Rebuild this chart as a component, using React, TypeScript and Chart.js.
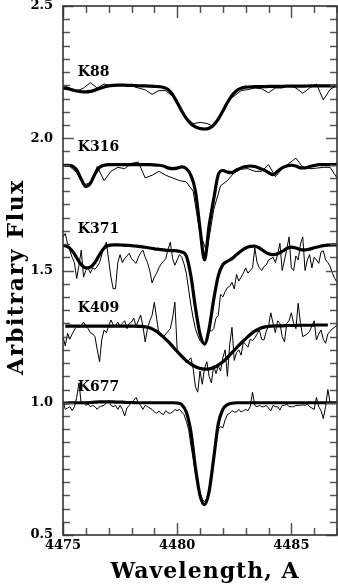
import React, { useEffect, useRef } from "react";
import { Chart, registerables } from "chart.js";

Chart.register(...registerables);

// ---- axis ranges & ticks ----
const WAVE_MIN = 4475;
const WAVE_MAX = 4487;
const FLUX_MIN = 0.5;
const FLUX_MAX = 2.5;
const xMajorTicks = [4475, 4480, 4485];
const yMajorTicks = [0.5, 1.0, 1.5, 2.0, 2.5];
const xMinorStep = 1;
const yMinorStep = 0.05;
const xTitle = "Wavelength, A";
const yTitle = "Arbitrary Flux";

// ---- spectrum labels ----
const spectrumNames = ["K88", "K316", "K371", "K409", "K677"];
const labelWave = 4475.65;
const labelFlux = [2.25, 1.965, 1.657, 1.355, 1.06];

// ---- sampling of each series (start wavelength, step in A) ----
const modelStart = 4475.0;
const modelStep = 0.2;
const k409ModelStart = 4475.1;
const k409ModelStep = 0.25;
const coarseObsStep = 0.3;
const fineObsStep = 0.1;

// ---- K88 ----
const k88Model = [2.19, 2.187, 2.183, 2.179, 2.176, 2.175, 2.177, 2.182, 2.188, 2.194,
  2.198, 2.2, 2.201, 2.201, 2.2, 2.2, 2.199, 2.198, 2.198, 2.197,
  2.196, 2.195, 2.192, 2.184, 2.165, 2.135, 2.103, 2.075, 2.055, 2.043,
  2.037, 2.035, 2.038, 2.05, 2.072, 2.103, 2.135, 2.162, 2.18, 2.189,
  2.193, 2.194, 2.195, 2.195, 2.195, 2.196, 2.196, 2.196, 2.196, 2.197,
  2.197, 2.197, 2.197, 2.197, 2.198, 2.198, 2.198, 2.198, 2.198, 2.198, 2.198];
const k88Obs = [2.2, 2.19, 2.178, 2.19, 2.21, 2.19, 2.205, 2.198, 2.2, 2.2,
  2.198, 2.19, 2.183, 2.166, 2.18, 2.18, 2.158, 2.12, 2.08, 2.055,
  2.06, 2.056, 2.045, 2.09, 2.14, 2.16, 2.18, 2.184, 2.19, 2.187,
  2.172, 2.19, 2.19, 2.2, 2.19, 2.17, 2.19, 2.205, 2.145, 2.185, 2.2];

// ---- K316 ----
const k316Model = [1.898, 1.898, 1.895, 1.88, 1.845, 1.818, 1.83, 1.865, 1.89, 1.898,
  1.9, 1.9, 1.9, 1.9, 1.9, 1.9, 1.9, 1.9, 1.9, 1.9,
  1.899, 1.898, 1.895, 1.888, 1.885, 1.887, 1.892, 1.885, 1.86, 1.8,
  1.66, 1.54, 1.67, 1.77, 1.862, 1.878, 1.872, 1.87, 1.88, 1.888,
  1.893, 1.895, 1.893, 1.887, 1.88, 1.87, 1.862, 1.875, 1.888, 1.895,
  1.898, 1.895, 1.888, 1.888, 1.893, 1.897, 1.9, 1.9, 1.9, 1.9, 1.9];
const k316Obs = [1.897, 1.893, 1.87, 1.825, 1.83, 1.893, 1.84, 1.875, 1.89, 1.885,
  1.905, 1.91, 1.85, 1.86, 1.875, 1.86, 1.85, 1.84, 1.835, 1.8,
  1.64, 1.57, 1.73, 1.82, 1.84, 1.87, 1.883, 1.885, 1.875, 1.875,
  1.9, 1.855, 1.885, 1.905, 1.925, 1.89, 1.885, 1.887, 1.89, 1.89, 1.85];

// ---- K371 ----
const k371Model = [1.595, 1.59, 1.575, 1.548, 1.522, 1.51, 1.513, 1.53, 1.56, 1.585,
  1.595, 1.597, 1.597, 1.596, 1.595, 1.594, 1.592, 1.59, 1.588, 1.585,
  1.582, 1.58, 1.578, 1.576, 1.575, 1.574, 1.57, 1.555, 1.48, 1.36,
  1.26, 1.222, 1.28, 1.39, 1.48, 1.522, 1.535, 1.545, 1.56, 1.574,
  1.585, 1.591, 1.592, 1.585, 1.573, 1.563, 1.56, 1.563, 1.572, 1.583,
  1.588, 1.585, 1.579, 1.578, 1.581, 1.586, 1.59, 1.594, 1.596, 1.597, 1.597];
const k371Obs = [1.627, 1.64, 1.6, 1.575, 1.55, 1.53, 1.47, 1.52, 1.577, 1.475,
  1.5, 1.51, 1.49, 1.51, 1.505, 1.515, 1.53, 1.56, 1.59, 1.607,
  1.54, 1.475, 1.43, 1.432, 1.53, 1.56, 1.53, 1.545, 1.555, 1.565,
  1.545, 1.535, 1.527, 1.55, 1.567, 1.577, 1.55, 1.53, 1.5, 1.453,
  1.475, 1.49, 1.51, 1.525, 1.535, 1.545, 1.58, 1.607, 1.545, 1.52,
  1.54, 1.56, 1.55, 1.525, 1.49, 1.43, 1.37, 1.32, 1.28, 1.255,
  1.235, 1.225, 1.222, 1.235, 1.28, 1.27, 1.28, 1.32, 1.33, 1.41,
  1.4, 1.42, 1.435, 1.44, 1.455, 1.43, 1.485, 1.46, 1.475, 1.49,
  1.51, 1.49, 1.5, 1.51, 1.585, 1.53, 1.51, 1.5, 1.515, 1.52,
  1.54, 1.545, 1.55, 1.53, 1.56, 1.603, 1.5, 1.54, 1.58, 1.627,
  1.51, 1.5, 1.555, 1.54, 1.6, 1.627, 1.5, 1.54, 1.56, 1.51,
  1.55, 1.54, 1.527, 1.57, 1.575, 1.54, 1.53, 1.515, 1.49, 1.47, 1.455];

// ---- K409 ----
const k409Model = [1.29, 1.29, 1.29, 1.29, 1.29, 1.29, 1.29, 1.29, 1.29, 1.29,
  1.29, 1.29, 1.29, 1.289, 1.287, 1.282, 1.27, 1.252, 1.232, 1.208,
  1.185, 1.163, 1.146, 1.134, 1.128, 1.127, 1.133, 1.145, 1.162, 1.185,
  1.208, 1.23, 1.25, 1.268, 1.28, 1.287, 1.29, 1.291, 1.291, 1.292,
  1.292, 1.293, 1.293, 1.293, 1.294, 1.294, 1.294];
const k409Obs = [1.25, 1.215, 1.263, 1.24, 1.26, 1.275, 1.29, 1.285, 1.29, 1.305,
  1.29, 1.28, 1.265, 1.26, 1.25, 1.2, 1.155, 1.24, 1.275, 1.265,
  1.29, 1.313, 1.295, 1.29, 1.305, 1.29, 1.3, 1.31, 1.28, 1.3,
  1.305, 1.32, 1.29, 1.31, 1.332, 1.29, 1.23, 1.28, 1.31, 1.33,
  1.38, 1.32, 1.26, 1.255, 1.25, 1.26, 1.27, 1.28, 1.32, 1.38,
  1.2, 1.19, 1.173, 1.165, 1.15, 1.16, 1.17, 1.13, 1.06, 1.04,
  1.12, 1.07, 1.13, 1.155, 1.1, 1.075, 1.14, 1.11, 1.14, 1.12,
  1.17, 1.2, 1.1, 1.22, 1.285, 1.16, 1.19, 1.2, 1.18, 1.23,
  1.22, 1.21, 1.24, 1.235, 1.245, 1.26, 1.275, 1.24, 1.237, 1.27,
  1.29, 1.34, 1.3, 1.265, 1.31, 1.3, 1.25, 1.23, 1.3, 1.31,
  1.34, 1.3, 1.28, 1.376, 1.3, 1.25, 1.255, 1.26, 1.27, 1.29,
  1.31, 1.237, 1.26, 1.275, 1.24, 1.225, 1.26, 1.27, 1.28, 1.285, 1.295];

// ---- K677 ----
const k677Model = [0.998, 0.999, 1.0, 1.0, 1.0, 1.0, 1.001, 1.002, 1.003, 1.003,
  1.003, 1.003, 1.002, 1.002, 1.001, 1.001, 1.0, 1.0, 1.0, 1.0,
  1.0, 1.0, 1.0, 1.0, 1.0, 0.999, 0.993, 0.965, 0.89, 0.755,
  0.65, 0.615, 0.665, 0.79, 0.92, 0.975, 0.993, 0.998, 1.0, 1.0,
  1.0, 1.0, 1.0, 1.0, 1.0, 1.0, 1.0, 1.0, 1.0, 1.0,
  1.0, 1.0, 1.0, 1.0, 1.0, 1.0, 1.0, 1.0, 1.0, 1.0, 1.0];
const k677Obs = [1.005, 0.975, 0.98, 0.985, 0.97, 0.985, 1.02, 1.075, 0.995, 1.0,
  0.99, 0.995, 0.985, 0.99, 0.985, 0.975, 0.985, 0.988, 0.99, 1.0,
  1.01, 0.99, 0.985, 0.99, 0.975, 0.99, 0.975, 0.95, 0.98, 0.99,
  1.0, 1.01, 1.02, 1.0, 0.99, 0.975, 0.99, 0.985, 0.98, 0.975,
  0.965, 0.96, 0.968, 0.96, 0.955, 0.97, 0.962, 0.96, 0.965, 0.975,
  0.97, 0.975, 0.965, 0.955, 0.93, 0.9, 0.84, 0.79, 0.73, 0.69,
  0.66, 0.635, 0.625, 0.64, 0.67, 0.72, 0.79, 0.86, 0.9, 0.91,
  0.905, 0.935, 0.955, 0.96, 0.97, 0.965, 0.965, 0.975, 0.965, 0.97,
  0.975, 0.97, 0.985, 1.04, 0.99, 0.985, 0.99, 0.985, 0.985, 0.99,
  0.98, 0.97, 0.99, 0.985, 0.985, 0.972, 0.99, 0.99, 0.995, 0.985,
  0.985, 0.985, 0.99, 0.99, 0.99, 0.992, 0.99, 0.995, 0.985, 0.98,
  0.975, 1.02, 0.985, 0.97, 0.94, 0.985, 1.05, 1.0, 0.995, 1.0, 0.998];

function toPoints(start: number, step: number, values: number[]) {
  return values.map((v, i) => ({ x: Math.round((start + i * step) * 1000) / 1000, y: v }));
}

const thin = (data: { x: number; y: number }[]) => ({
  data,
  borderColor: "#000",
  borderWidth: 1,
  pointRadius: 0,
  tension: 0,
  order: 2,
});
const thick = (data: { x: number; y: number }[]) => ({
  data,
  borderColor: "#000",
  borderWidth: 3.2,
  pointRadius: 0,
  cubicInterpolationMode: "monotone" as const,
  order: 1,
});

const framePlugin = {
  id: "frameTicks",
  afterDatasetsDraw(chart: any) {
    const { ctx, chartArea: a, scales } = chart;
    const x = scales.x;
    const y = scales.y;
    ctx.save();
    // ticks pointing inward on all four sides
    ctx.strokeStyle = "#555";
    ctx.lineWidth = 1.5;
    ctx.beginPath();
    const nY = Math.round((FLUX_MAX - FLUX_MIN) / yMinorStep);
    for (let i = 0; i <= nY; i++) {
      const v = FLUX_MIN + i * yMinorStep;
      const major = yMajorTicks.some((t) => Math.abs(t - v) < 1e-6);
      const len = major ? 11 : 7;
      const py = Math.round(y.getPixelForValue(v)) + 0.5;
      ctx.moveTo(a.left, py);
      ctx.lineTo(a.left + len, py);
      ctx.moveTo(a.right, py);
      ctx.lineTo(a.right - len, py);
    }
    const nX = Math.round((WAVE_MAX - WAVE_MIN) / xMinorStep);
    for (let i = 0; i <= nX; i++) {
      const w = WAVE_MIN + i * xMinorStep;
      const major = xMajorTicks.includes(w);
      const len = major ? 12 : 7;
      const px = Math.round(x.getPixelForValue(w)) + 0.5;
      ctx.moveTo(px, a.bottom);
      ctx.lineTo(px, a.bottom - len);
      ctx.moveTo(px, a.top);
      ctx.lineTo(px, a.top + len);
    }
    ctx.stroke();
    // frame
    ctx.strokeStyle = "#333";
    ctx.lineWidth = 1.6;
    ctx.strokeRect(a.left, a.top, a.right - a.left, a.bottom - a.top);
    // spectrum names
    ctx.fillStyle = "#000";
    ctx.font = 'bold 14px "DejaVu Serif"';
    ctx.textAlign = "left";
    ctx.textBaseline = "middle";
    spectrumNames.forEach((name, i) => {
      ctx.fillText(name, x.getPixelForValue(labelWave), y.getPixelForValue(labelFlux[i]));
    });
    // axis titles (serif, letter-spaced)
    ctx.font = 'bold 22px "DejaVu Serif"';
    (ctx as any).letterSpacing = "1px";
    ctx.textAlign = "center";
    ctx.textBaseline = "alphabetic";
    ctx.fillText(xTitle, 205, 578);
    ctx.save();
    ctx.translate(23, 277);
    ctx.rotate(-Math.PI / 2);
    (ctx as any).letterSpacing = "1.6px";
    ctx.fillText(yTitle, 0, 0);
    ctx.restore();
    ctx.restore();
  },
};

export default function App() {
  const canvasRef = useRef<HTMLCanvasElement | null>(null);

  useEffect(() => {
    if (!canvasRef.current) return;
    const tickFont = { family: "DejaVu Serif", weight: "bold" as const, size: 13 };
    const chart = new Chart(canvasRef.current, {
      type: "line",
      data: {
        datasets: [
          thick(toPoints(modelStart, modelStep, k88Model)),
          thin(toPoints(modelStart, coarseObsStep, k88Obs)),
          thick(toPoints(modelStart, modelStep, k316Model)),
          thin(toPoints(modelStart, coarseObsStep, k316Obs)),
          thick(toPoints(modelStart, modelStep, k371Model)),
          thin(toPoints(modelStart, fineObsStep, k371Obs)),
          thick(toPoints(k409ModelStart, k409ModelStep, k409Model)),
          thin(toPoints(modelStart, fineObsStep, k409Obs)),
          thick(toPoints(modelStart, modelStep, k677Model)),
          thin(toPoints(modelStart, fineObsStep, k677Obs)),
        ] as any,
      },
      options: {
        animation: false,
        responsive: true,
        maintainAspectRatio: false,
        layout: { padding: { top: 6, right: 1, left: 0, bottom: 0 } },
        plugins: { legend: { display: false }, tooltip: { enabled: false } },
        scales: {
          x: {
            type: "linear",
            min: WAVE_MIN,
            max: WAVE_MAX,
            afterBuildTicks: (s: any) => {
              s.ticks = xMajorTicks.map((v) => ({ value: v }));
            },
            afterFit: (s: any) => {
              s.height = 50;
              s.paddingLeft = 0;
              s.paddingRight = 0;
            },
            ticks: {
              font: tickFont,
              color: "#000",
              padding: 3,
              maxRotation: 0,
              autoSkip: false,
              callback: (v: any) => String(v),
            },
            grid: { display: false, drawTicks: false },
            border: { display: false },
          },
          y: {
            type: "linear",
            min: FLUX_MIN,
            max: FLUX_MAX,
            afterBuildTicks: (s: any) => {
              s.ticks = yMajorTicks.map((v) => ({ value: v }));
            },
            afterFit: (s: any) => {
              s.width = 63;
              s.paddingTop = 0;
              s.paddingBottom = 0;
            },
            ticks: {
              font: tickFont,
              color: "#000",
              padding: 10,
              autoSkip: false,
              callback: (v: any) => Number(v).toFixed(1),
            },
            grid: { display: false, drawTicks: false },
            border: { display: false },
          },
        },
      },
      plugins: [framePlugin],
    });
    return () => chart.destroy();
  }, []);

  return (
    <div style={{ position: "absolute", left: 0, top: 0, width: 338, height: 585, background: "#fff" }}>
      <canvas ref={canvasRef} />
    </div>
  );
}
